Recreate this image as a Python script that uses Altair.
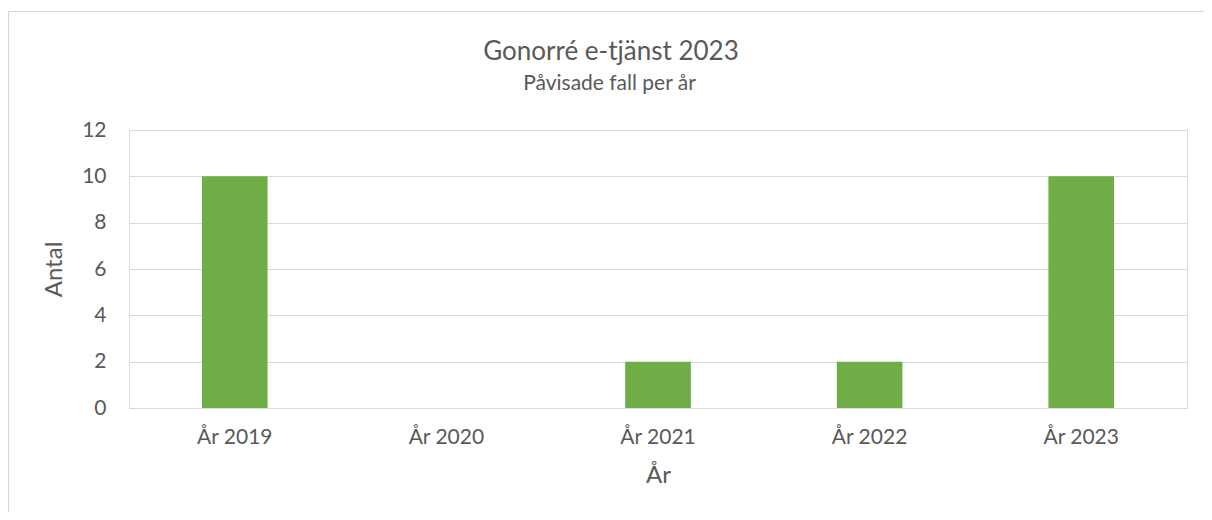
import altair as alt
import pandas as pd

years = ["År 2019", "År 2020", "År 2021", "År 2022", "År 2023"]
counts = [10, 0, 2, 2, 10]
y_ticks = [0, 2, 4, 6, 8, 10, 12]

title_text = "Gonorré e-tjänst 2023"
subtitle_text = "Påvisade fall per år"
x_title = "År"
y_title = "Antal"

FONT = "Lato"
TXT = "#595959"
GRID = "#D9D9D9"
GREEN = "#70AD47"

df = pd.DataFrame({"year": years, "count": counts})
one = pd.DataFrame({"a": [0]})

bars = alt.Chart(df).mark_bar(color=GREEN).encode(
    x=alt.X("year:N", sort=years,
            scale=alt.Scale(paddingInner=0.69, paddingOuter=0.345),
            axis=alt.Axis(title=x_title, labelAngle=0, domain=False, ticks=False,
                          labelPadding=18, titlePadding=16, labelFontSize=21,
                          titleFontSize=24, labelColor=TXT, titleColor=TXT,
                          labelFont=FONT, titleFont=FONT, titleFontWeight="normal")),
    y=alt.Y("count:Q", scale=alt.Scale(domain=[0, 12], nice=False),
            axis=alt.Axis(title=y_title, values=y_ticks, domain=False, ticks=False,
                          labelPadding=23, titlePadding=15, labelFontSize=21,
                          titleFontSize=24, labelColor=TXT, titleColor=TXT,
                          labelFont=FONT, titleFont=FONT, titleFontWeight="normal",
                          gridColor=GRID, gridWidth=1.2)),
)

frame = alt.Chart(one).mark_rect(
    fill="transparent", stroke=GRID, strokeWidth=1.2
).encode(
    x=alt.value(-120.5), y=alt.value(-118.5), x2=alt.value(1200), y2=alt.value(500)
)

title = alt.Chart(one).mark_text(
    text=title_text, font=FONT, fontSize=26, color=TXT, align="center", baseline="alphabetic"
).encode(x=alt.value(482), y=alt.value(-70.5))

subtitle = alt.Chart(one).mark_text(
    text=subtitle_text, font=FONT, fontSize=21, color=TXT, align="center", baseline="alphabetic"
).encode(x=alt.value(480.5), y=alt.value(-40))

chart = alt.layer(frame, bars, title, subtitle).properties(
    width=1058, height=278,
    padding={"left": 121, "top": 122, "right": 17, "bottom": 104},
    autosize=alt.AutoSizeParams(type="none"),
).configure_view(stroke=None).configure(background="white")

chart.save("out.html", embed_options={"renderer": "svg", "actions": False})
